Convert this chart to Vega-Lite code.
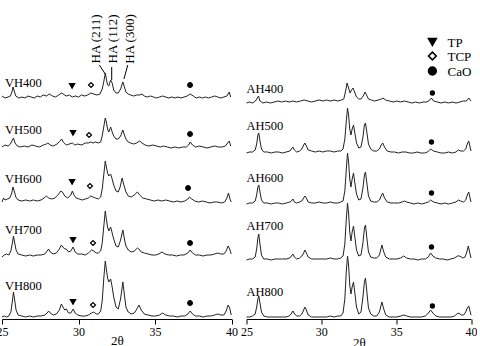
{
"$schema": "https://vega.github.io/schema/vega-lite/v6.json",
"padding": {"left": -4, "top": 0, "right": 0, "bottom": 0},
"background": "white",
"spacing": 2.5,
"config": {
  "view": {"stroke": null},
  "font": "Liberation Serif",
  "axis": {"labelFont": "Liberation Serif", "titleFont": "Liberation Serif", "labelFontSize": 12, "titleFontSize": 13, "titleFontWeight": "normal", "domainColor": "black", "tickColor": "black", "labelColor": "black", "titleColor": "black", "grid": false, "tickSize": 5, "labelPadding": 2, "labelFlush": false}
},
"datasets": {
"VH400": [{"x":25.0,"y":223},{"x":25.2,"y":221},{"x":25.4,"y":222},{"x":25.55,"y":223},{"x":25.65,"y":227},{"x":25.72,"y":232},{"x":25.8,"y":228},{"x":25.9,"y":223},{"x":26.1,"y":221},{"x":26.3,"y":222},{"x":26.5,"y":221},{"x":26.7,"y":223},{"x":26.9,"y":222},{"x":27.1,"y":221},{"x":27.3,"y":223},{"x":27.5,"y":222},{"x":27.7,"y":224},{"x":27.9,"y":223},{"x":28.1,"y":225},{"x":28.3,"y":223},{"x":28.5,"y":222},{"x":28.7,"y":224},{"x":28.9,"y":226},{"x":29.0,"y":225},{"x":29.2,"y":223},{"x":29.4,"y":224},{"x":29.6,"y":222},{"x":29.8,"y":223},{"x":30.0,"y":222},{"x":30.2,"y":224},{"x":30.4,"y":223},{"x":30.6,"y":224},{"x":30.8,"y":226},{"x":31.0,"y":225},{"x":31.2,"y":224},{"x":31.4,"y":225},{"x":31.55,"y":230},{"x":31.65,"y":237},{"x":31.75,"y":246},{"x":31.82,"y":240},{"x":31.9,"y":234},{"x":31.98,"y":233},{"x":32.1,"y":239},{"x":32.2,"y":236},{"x":32.3,"y":229},{"x":32.45,"y":226},{"x":32.6,"y":226},{"x":32.75,"y":230},{"x":32.9,"y":237},{"x":33.0,"y":232},{"x":33.1,"y":227},{"x":33.25,"y":225},{"x":33.4,"y":224},{"x":33.6,"y":223},{"x":33.8,"y":224},{"x":34.0,"y":224},{"x":34.15,"y":225},{"x":34.3,"y":223},{"x":34.5,"y":222},{"x":34.7,"y":223},{"x":34.9,"y":222},{"x":35.1,"y":221},{"x":35.3,"y":222},{"x":35.5,"y":223},{"x":35.7,"y":222},{"x":35.9,"y":221},{"x":36.1,"y":222},{"x":36.3,"y":221},{"x":36.5,"y":222},{"x":36.7,"y":221},{"x":36.9,"y":222},{"x":37.1,"y":223},{"x":37.3,"y":225},{"x":37.5,"y":223},{"x":37.7,"y":221},{"x":37.9,"y":222},{"x":38.1,"y":221},{"x":38.3,"y":222},{"x":38.5,"y":221},{"x":38.7,"y":222},{"x":38.9,"y":223},{"x":39.1,"y":222},{"x":39.3,"y":221},{"x":39.5,"y":222},{"x":39.7,"y":223},{"x":39.85,"y":227},{"x":39.95,"y":222}],
"VH500": [{"x":25.0,"y":172},{"x":25.2,"y":174},{"x":25.4,"y":173},{"x":25.55,"y":175},{"x":25.68,"y":179},{"x":25.75,"y":181},{"x":25.85,"y":176},{"x":26.0,"y":173},{"x":26.2,"y":172},{"x":26.45,"y":173},{"x":26.7,"y":172},{"x":26.95,"y":174},{"x":27.2,"y":173},{"x":27.45,"y":172},{"x":27.7,"y":174},{"x":27.9,"y":175},{"x":28.0,"y":176},{"x":28.15,"y":174},{"x":28.35,"y":173},{"x":28.6,"y":175},{"x":28.8,"y":178},{"x":28.9,"y":180},{"x":29.0,"y":177},{"x":29.2,"y":174},{"x":29.4,"y":175},{"x":29.6,"y":176},{"x":29.75,"y":174},{"x":29.95,"y":175},{"x":30.2,"y":174},{"x":30.45,"y":176},{"x":30.65,"y":176},{"x":30.8,"y":177},{"x":30.95,"y":176},{"x":31.1,"y":177},{"x":31.3,"y":176},{"x":31.45,"y":177},{"x":31.55,"y":183},{"x":31.65,"y":192},{"x":31.75,"y":201},{"x":31.82,"y":197},{"x":31.9,"y":190},{"x":31.98,"y":187},{"x":32.1,"y":192},{"x":32.2,"y":187},{"x":32.3,"y":183},{"x":32.45,"y":180},{"x":32.6,"y":180},{"x":32.75,"y":183},{"x":32.9,"y":189},{"x":33.0,"y":184},{"x":33.1,"y":180},{"x":33.25,"y":177},{"x":33.4,"y":176},{"x":33.6,"y":175},{"x":33.8,"y":176},{"x":34.0,"y":178},{"x":34.15,"y":176},{"x":34.35,"y":174},{"x":34.6,"y":173},{"x":34.85,"y":174},{"x":35.1,"y":173},{"x":35.35,"y":172},{"x":35.55,"y":173},{"x":35.8,"y":172},{"x":36.05,"y":171},{"x":36.3,"y":172},{"x":36.55,"y":171},{"x":36.8,"y":172},{"x":37.05,"y":172},{"x":37.2,"y":174},{"x":37.3,"y":177},{"x":37.45,"y":174},{"x":37.65,"y":172},{"x":37.9,"y":173},{"x":38.15,"y":172},{"x":38.4,"y":171},{"x":38.65,"y":172},{"x":38.9,"y":173},{"x":39.15,"y":172},{"x":39.4,"y":172},{"x":39.6,"y":173},{"x":39.75,"y":176},{"x":39.85,"y":178},{"x":39.95,"y":173}],
"VH600": [{"x":25.0,"y":117},{"x":25.1,"y":121},{"x":25.2,"y":119},{"x":25.35,"y":120},{"x":25.5,"y":121},{"x":25.62,"y":125},{"x":25.72,"y":132},{"x":25.8,"y":128},{"x":25.9,"y":122},{"x":26.05,"y":119},{"x":26.3,"y":118},{"x":26.55,"y":119},{"x":26.8,"y":118},{"x":27.05,"y":119},{"x":27.3,"y":118},{"x":27.55,"y":119},{"x":27.75,"y":121},{"x":27.9,"y":123},{"x":28.05,"y":121},{"x":28.25,"y":120},{"x":28.45,"y":121},{"x":28.65,"y":124},{"x":28.85,"y":128},{"x":28.95,"y":127},{"x":29.1,"y":123},{"x":29.3,"y":121},{"x":29.5,"y":124},{"x":29.6,"y":128},{"x":29.7,"y":124},{"x":29.85,"y":121},{"x":30.05,"y":120},{"x":30.25,"y":119},{"x":30.45,"y":120},{"x":30.65,"y":121},{"x":30.8,"y":123},{"x":30.95,"y":122},{"x":31.1,"y":121},{"x":31.3,"y":120},{"x":31.45,"y":122},{"x":31.55,"y":130},{"x":31.65,"y":144},{"x":31.75,"y":158},{"x":31.82,"y":152},{"x":31.9,"y":146},{"x":31.98,"y":143},{"x":32.1,"y":145},{"x":32.2,"y":140},{"x":32.3,"y":134},{"x":32.45,"y":128},{"x":32.6,"y":127},{"x":32.72,"y":132},{"x":32.85,"y":141},{"x":32.95,"y":135},{"x":33.1,"y":127},{"x":33.25,"y":123},{"x":33.45,"y":122},{"x":33.65,"y":124},{"x":33.85,"y":127},{"x":34.0,"y":124},{"x":34.2,"y":121},{"x":34.45,"y":120},{"x":34.7,"y":119},{"x":34.95,"y":118},{"x":35.2,"y":119},{"x":35.45,"y":118},{"x":35.7,"y":119},{"x":35.95,"y":118},{"x":36.2,"y":117},{"x":36.45,"y":118},{"x":36.7,"y":117},{"x":36.95,"y":118},{"x":37.15,"y":120},{"x":37.25,"y":122},{"x":37.4,"y":120},{"x":37.6,"y":118},{"x":37.85,"y":117},{"x":38.1,"y":118},{"x":38.35,"y":117},{"x":38.6,"y":116},{"x":38.85,"y":117},{"x":39.1,"y":117},{"x":39.35,"y":116},{"x":39.55,"y":117},{"x":39.7,"y":121},{"x":39.8,"y":126},{"x":39.9,"y":120},{"x":39.98,"y":117}],
"VH700": [{"x":25.0,"y":62},{"x":25.15,"y":64},{"x":25.3,"y":65},{"x":25.45,"y":64},{"x":25.58,"y":68},{"x":25.68,"y":76},{"x":25.75,"y":83},{"x":25.82,"y":77},{"x":25.92,"y":69},{"x":26.05,"y":65},{"x":26.3,"y":64},{"x":26.55,"y":63},{"x":26.8,"y":64},{"x":27.05,"y":63},{"x":27.3,"y":64},{"x":27.55,"y":64},{"x":27.8,"y":65},{"x":27.95,"y":68},{"x":28.05,"y":70},{"x":28.15,"y":67},{"x":28.35,"y":65},{"x":28.55,"y":66},{"x":28.75,"y":70},{"x":28.88,"y":74},{"x":28.98,"y":72},{"x":29.1,"y":70},{"x":29.2,"y":70},{"x":29.35,"y":67},{"x":29.5,"y":68},{"x":29.65,"y":72},{"x":29.78,"y":67},{"x":29.95,"y":65},{"x":30.2,"y":65},{"x":30.45,"y":64},{"x":30.65,"y":66},{"x":30.85,"y":69},{"x":31.0,"y":68},{"x":31.15,"y":66},{"x":31.3,"y":66},{"x":31.45,"y":68},{"x":31.55,"y":76},{"x":31.65,"y":92},{"x":31.75,"y":108},{"x":31.82,"y":100},{"x":31.9,"y":92},{"x":31.98,"y":88},{"x":32.1,"y":92},{"x":32.2,"y":86},{"x":32.3,"y":80},{"x":32.45,"y":73},{"x":32.6,"y":72},{"x":32.75,"y":79},{"x":32.9,"y":89},{"x":33.0,"y":80},{"x":33.1,"y":73},{"x":33.25,"y":69},{"x":33.45,"y":67},{"x":33.65,"y":68},{"x":33.85,"y":71},{"x":33.95,"y":70},{"x":34.1,"y":67},{"x":34.3,"y":66},{"x":34.55,"y":65},{"x":34.8,"y":64},{"x":35.05,"y":64},{"x":35.25,"y":65},{"x":35.45,"y":67},{"x":35.65,"y":65},{"x":35.9,"y":64},{"x":36.15,"y":64},{"x":36.4,"y":63},{"x":36.65,"y":64},{"x":36.9,"y":64},{"x":37.15,"y":66},{"x":37.3,"y":69},{"x":37.45,"y":66},{"x":37.65,"y":64},{"x":37.9,"y":64},{"x":38.15,"y":63},{"x":38.4,"y":64},{"x":38.65,"y":64},{"x":38.9,"y":65},{"x":39.1,"y":66},{"x":39.3,"y":65},{"x":39.5,"y":65},{"x":39.65,"y":68},{"x":39.78,"y":73},{"x":39.88,"y":70},{"x":39.98,"y":65}],
"VH800": [{"x":25.0,"y":2},{"x":25.15,"y":3},{"x":25.3,"y":2},{"x":25.45,"y":3},{"x":25.58,"y":7},{"x":25.68,"y":18},{"x":25.75,"y":27},{"x":25.82,"y":20},{"x":25.92,"y":9},{"x":26.05,"y":4},{"x":26.3,"y":3},{"x":26.55,"y":2},{"x":26.8,"y":3},{"x":27.05,"y":2},{"x":27.3,"y":3},{"x":27.55,"y":3},{"x":27.8,"y":4},{"x":27.95,"y":6},{"x":28.05,"y":8},{"x":28.15,"y":6},{"x":28.35,"y":4},{"x":28.55,"y":5},{"x":28.75,"y":9},{"x":28.88,"y":15},{"x":28.98,"y":12},{"x":29.1,"y":9},{"x":29.2,"y":10},{"x":29.35,"y":6},{"x":29.5,"y":6},{"x":29.65,"y":10},{"x":29.78,"y":6},{"x":29.95,"y":4},{"x":30.2,"y":3},{"x":30.45,"y":3},{"x":30.65,"y":4},{"x":30.85,"y":6},{"x":31.0,"y":7},{"x":31.15,"y":5},{"x":31.3,"y":5},{"x":31.45,"y":8},{"x":31.55,"y":18},{"x":31.65,"y":40},{"x":31.75,"y":58},{"x":31.82,"y":50},{"x":31.9,"y":41},{"x":31.98,"y":37},{"x":32.1,"y":40},{"x":32.2,"y":32},{"x":32.3,"y":22},{"x":32.45,"y":12},{"x":32.6,"y":10},{"x":32.75,"y":20},{"x":32.9,"y":37},{"x":33.0,"y":24},{"x":33.1,"y":12},{"x":33.25,"y":7},{"x":33.45,"y":5},{"x":33.65,"y":6},{"x":33.85,"y":11},{"x":33.95,"y":14},{"x":34.1,"y":9},{"x":34.3,"y":5},{"x":34.55,"y":4},{"x":34.8,"y":3},{"x":35.05,"y":3},{"x":35.3,"y":4},{"x":35.5,"y":6},{"x":35.7,"y":4},{"x":35.95,"y":3},{"x":36.2,"y":3},{"x":36.45,"y":2},{"x":36.7,"y":3},{"x":36.95,"y":3},{"x":37.15,"y":5},{"x":37.3,"y":8},{"x":37.45,"y":5},{"x":37.65,"y":3},{"x":37.9,"y":3},{"x":38.15,"y":2},{"x":38.4,"y":3},{"x":38.65,"y":3},{"x":38.9,"y":4},{"x":39.1,"y":5},{"x":39.3,"y":4},{"x":39.5,"y":4},{"x":39.65,"y":8},{"x":39.78,"y":14},{"x":39.88,"y":11},{"x":39.98,"y":4}],
"AH400": [{"x":25.0,"y":216},{"x":25.2,"y":217},{"x":25.4,"y":216},{"x":25.6,"y":218},{"x":25.72,"y":221},{"x":25.8,"y":223},{"x":25.9,"y":218},{"x":26.1,"y":216},{"x":26.35,"y":217},{"x":26.6,"y":216},{"x":26.85,"y":217},{"x":27.1,"y":218},{"x":27.35,"y":217},{"x":27.6,"y":218},{"x":27.85,"y":217},{"x":28.1,"y":218},{"x":28.35,"y":217},{"x":28.6,"y":218},{"x":28.85,"y":219},{"x":29.1,"y":218},{"x":29.35,"y":217},{"x":29.6,"y":218},{"x":29.85,"y":219},{"x":30.1,"y":218},{"x":30.35,"y":219},{"x":30.6,"y":218},{"x":30.85,"y":219},{"x":31.1,"y":218},{"x":31.35,"y":219},{"x":31.5,"y":220},{"x":31.62,"y":228},{"x":31.72,"y":236},{"x":31.8,"y":232},{"x":31.92,"y":226},{"x":32.02,"y":229},{"x":32.12,"y":231},{"x":32.22,"y":227},{"x":32.35,"y":222},{"x":32.5,"y":220},{"x":32.65,"y":220},{"x":32.8,"y":223},{"x":32.92,"y":227},{"x":33.02,"y":224},{"x":33.15,"y":220},{"x":33.35,"y":219},{"x":33.55,"y":218},{"x":33.8,"y":219},{"x":34.0,"y":220},{"x":34.12,"y":221},{"x":34.3,"y":219},{"x":34.55,"y":218},{"x":34.8,"y":217},{"x":35.05,"y":218},{"x":35.3,"y":217},{"x":35.55,"y":218},{"x":35.8,"y":217},{"x":36.05,"y":216},{"x":36.3,"y":217},{"x":36.55,"y":216},{"x":36.8,"y":217},{"x":37.05,"y":217},{"x":37.25,"y":219},{"x":37.35,"y":221},{"x":37.5,"y":218},{"x":37.75,"y":217},{"x":38.0,"y":216},{"x":38.25,"y":217},{"x":38.5,"y":216},{"x":38.75,"y":217},{"x":39.0,"y":216},{"x":39.25,"y":217},{"x":39.5,"y":218},{"x":39.7,"y":218},{"x":39.85,"y":221},{"x":39.95,"y":219},{"x":40.0,"y":218}],
"AH500": [{"x":25.0,"y":166},{"x":25.2,"y":167},{"x":25.4,"y":167},{"x":25.58,"y":169},{"x":25.68,"y":175},{"x":25.76,"y":184},{"x":25.82,"y":186},{"x":25.9,"y":178},{"x":26.0,"y":170},{"x":26.15,"y":167},{"x":26.4,"y":167},{"x":26.65,"y":166},{"x":26.9,"y":167},{"x":27.15,"y":167},{"x":27.4,"y":166},{"x":27.65,"y":167},{"x":27.9,"y":168},{"x":28.0,"y":170},{"x":28.1,"y":172},{"x":28.2,"y":169},{"x":28.35,"y":167},{"x":28.55,"y":168},{"x":28.7,"y":170},{"x":28.82,"y":174},{"x":28.9,"y":176},{"x":29.0,"y":173},{"x":29.12,"y":169},{"x":29.35,"y":168},{"x":29.6,"y":167},{"x":29.85,"y":168},{"x":30.1,"y":167},{"x":30.35,"y":168},{"x":30.6,"y":168},{"x":30.85,"y":167},{"x":31.1,"y":168},{"x":31.3,"y":168},{"x":31.45,"y":170},{"x":31.57,"y":180},{"x":31.67,"y":198},{"x":31.75,"y":211},{"x":31.82,"y":204},{"x":31.9,"y":190},{"x":31.98,"y":184},{"x":32.06,"y":190},{"x":32.15,"y":194},{"x":32.24,"y":186},{"x":32.35,"y":176},{"x":32.5,"y":171},{"x":32.65,"y":172},{"x":32.78,"y":182},{"x":32.88,"y":194},{"x":32.95,"y":196},{"x":33.05,"y":186},{"x":33.15,"y":175},{"x":33.3,"y":170},{"x":33.5,"y":168},{"x":33.7,"y":168},{"x":33.88,"y":170},{"x":34.0,"y":174},{"x":34.1,"y":176},{"x":34.22,"y":172},{"x":34.4,"y":168},{"x":34.65,"y":167},{"x":34.9,"y":167},{"x":35.15,"y":166},{"x":35.4,"y":167},{"x":35.65,"y":167},{"x":35.9,"y":166},{"x":36.15,"y":166},{"x":36.4,"y":167},{"x":36.65,"y":166},{"x":36.9,"y":166},{"x":37.1,"y":167},{"x":37.3,"y":170},{"x":37.5,"y":168},{"x":37.75,"y":167},{"x":38.0,"y":166},{"x":38.25,"y":166},{"x":38.5,"y":167},{"x":38.75,"y":166},{"x":39.0,"y":167},{"x":39.15,"y":169},{"x":39.3,"y":168},{"x":39.5,"y":168},{"x":39.65,"y":170},{"x":39.75,"y":175},{"x":39.85,"y":178},{"x":39.95,"y":171},{"x":40.0,"y":168}],
"AH600": [{"x":25.0,"y":115},{"x":25.2,"y":116},{"x":25.4,"y":116},{"x":25.58,"y":118},{"x":25.68,"y":124},{"x":25.76,"y":132},{"x":25.82,"y":134},{"x":25.9,"y":127},{"x":26.0,"y":119},{"x":26.15,"y":116},{"x":26.4,"y":116},{"x":26.65,"y":115},{"x":26.9,"y":116},{"x":27.15,"y":116},{"x":27.4,"y":115},{"x":27.65,"y":116},{"x":27.9,"y":117},{"x":28.0,"y":118},{"x":28.1,"y":120},{"x":28.2,"y":117},{"x":28.35,"y":116},{"x":28.55,"y":117},{"x":28.7,"y":118},{"x":28.82,"y":121},{"x":28.9,"y":123},{"x":29.0,"y":121},{"x":29.12,"y":117},{"x":29.35,"y":116},{"x":29.6,"y":116},{"x":29.85,"y":117},{"x":30.1,"y":116},{"x":30.35,"y":116},{"x":30.6,"y":117},{"x":30.85,"y":116},{"x":31.1,"y":116},{"x":31.3,"y":117},{"x":31.45,"y":118},{"x":31.57,"y":128},{"x":31.67,"y":150},{"x":31.75,"y":166},{"x":31.82,"y":157},{"x":31.9,"y":140},{"x":31.98,"y":132},{"x":32.06,"y":140},{"x":32.15,"y":146},{"x":32.24,"y":136},{"x":32.35,"y":125},{"x":32.5,"y":119},{"x":32.65,"y":120},{"x":32.78,"y":131},{"x":32.88,"y":144},{"x":32.95,"y":147},{"x":33.05,"y":135},{"x":33.15,"y":123},{"x":33.3,"y":118},{"x":33.5,"y":117},{"x":33.7,"y":117},{"x":33.88,"y":119},{"x":34.0,"y":123},{"x":34.1,"y":126},{"x":34.22,"y":121},{"x":34.4,"y":117},{"x":34.65,"y":116},{"x":34.9,"y":116},{"x":35.15,"y":116},{"x":35.4,"y":117},{"x":35.55,"y":118},{"x":35.7,"y":117},{"x":35.95,"y":116},{"x":36.2,"y":115},{"x":36.45,"y":116},{"x":36.7,"y":115},{"x":36.95,"y":116},{"x":37.15,"y":117},{"x":37.3,"y":119},{"x":37.5,"y":117},{"x":37.75,"y":116},{"x":38.0,"y":115},{"x":38.25,"y":116},{"x":38.5,"y":115},{"x":38.75,"y":116},{"x":39.0,"y":117},{"x":39.15,"y":119},{"x":39.3,"y":118},{"x":39.5,"y":117},{"x":39.65,"y":119},{"x":39.75,"y":124},{"x":39.85,"y":127},{"x":39.95,"y":120},{"x":40.0,"y":117}],
"AH700": [{"x":25.0,"y":59},{"x":25.2,"y":60},{"x":25.4,"y":60},{"x":25.58,"y":62},{"x":25.68,"y":70},{"x":25.76,"y":81},{"x":25.82,"y":85},{"x":25.9,"y":75},{"x":26.0,"y":64},{"x":26.15,"y":60},{"x":26.4,"y":60},{"x":26.65,"y":59},{"x":26.9,"y":60},{"x":27.15,"y":60},{"x":27.4,"y":60},{"x":27.65,"y":60},{"x":27.9,"y":61},{"x":28.0,"y":63},{"x":28.1,"y":65},{"x":28.2,"y":62},{"x":28.35,"y":60},{"x":28.55,"y":61},{"x":28.7,"y":63},{"x":28.82,"y":66},{"x":28.9,"y":69},{"x":29.0,"y":66},{"x":29.12,"y":62},{"x":29.35,"y":60},{"x":29.6,"y":60},{"x":29.85,"y":60},{"x":30.1,"y":60},{"x":30.35,"y":60},{"x":30.6,"y":61},{"x":30.85,"y":60},{"x":31.1,"y":60},{"x":31.3,"y":61},{"x":31.45,"y":63},{"x":31.57,"y":75},{"x":31.67,"y":100},{"x":31.75,"y":116},{"x":31.82,"y":106},{"x":31.9,"y":87},{"x":31.98,"y":78},{"x":32.06,"y":87},{"x":32.15,"y":93},{"x":32.24,"y":82},{"x":32.35,"y":69},{"x":32.5,"y":63},{"x":32.65,"y":64},{"x":32.78,"y":76},{"x":32.88,"y":91},{"x":32.95,"y":94},{"x":33.05,"y":80},{"x":33.15,"y":67},{"x":33.3,"y":62},{"x":33.5,"y":61},{"x":33.7,"y":61},{"x":33.88,"y":64},{"x":33.98,"y":70},{"x":34.05,"y":74},{"x":34.15,"y":68},{"x":34.3,"y":62},{"x":34.55,"y":60},{"x":34.8,"y":60},{"x":35.05,"y":60},{"x":35.3,"y":61},{"x":35.5,"y":63},{"x":35.7,"y":61},{"x":35.95,"y":60},{"x":36.2,"y":60},{"x":36.45,"y":59},{"x":36.7,"y":60},{"x":36.95,"y":60},{"x":37.15,"y":62},{"x":37.3,"y":66},{"x":37.45,"y":63},{"x":37.65,"y":61},{"x":37.9,"y":60},{"x":38.15,"y":60},{"x":38.4,"y":59},{"x":38.65,"y":60},{"x":38.9,"y":61},{"x":39.1,"y":63},{"x":39.25,"y":63},{"x":39.45,"y":61},{"x":39.6,"y":62},{"x":39.72,"y":67},{"x":39.82,"y":73},{"x":39.92,"y":66},{"x":40.0,"y":61}],
"AH800": [{"x":25.0,"y":2},{"x":25.2,"y":2},{"x":25.4,"y":3},{"x":25.58,"y":5},{"x":25.68,"y":12},{"x":25.76,"y":20},{"x":25.82,"y":23},{"x":25.9,"y":16},{"x":26.0,"y":7},{"x":26.15,"y":3},{"x":26.4,"y":2},{"x":26.65,"y":2},{"x":26.9,"y":2},{"x":27.15,"y":2},{"x":27.4,"y":2},{"x":27.65,"y":2},{"x":27.85,"y":3},{"x":27.98,"y":5},{"x":28.1,"y":8},{"x":28.22,"y":5},{"x":28.35,"y":3},{"x":28.55,"y":3},{"x":28.7,"y":5},{"x":28.82,"y":9},{"x":28.9,"y":12},{"x":29.0,"y":9},{"x":29.12,"y":4},{"x":29.35,"y":2},{"x":29.6,"y":2},{"x":29.85,"y":2},{"x":30.1,"y":2},{"x":30.35,"y":2},{"x":30.6,"y":3},{"x":30.85,"y":2},{"x":31.1,"y":3},{"x":31.3,"y":3},{"x":31.45,"y":6},{"x":31.57,"y":20},{"x":31.67,"y":48},{"x":31.75,"y":63},{"x":31.82,"y":54},{"x":31.9,"y":34},{"x":31.98,"y":25},{"x":32.06,"y":32},{"x":32.15,"y":37},{"x":32.24,"y":26},{"x":32.35,"y":12},{"x":32.5,"y":5},{"x":32.65,"y":7},{"x":32.78,"y":22},{"x":32.88,"y":37},{"x":32.95,"y":41},{"x":33.05,"y":26},{"x":33.15,"y":11},{"x":33.3,"y":5},{"x":33.5,"y":3},{"x":33.7,"y":3},{"x":33.88,"y":7},{"x":33.98,"y":13},{"x":34.05,"y":17},{"x":34.15,"y":11},{"x":34.3,"y":4},{"x":34.55,"y":2},{"x":34.8,"y":2},{"x":35.05,"y":2},{"x":35.3,"y":3},{"x":35.5,"y":4},{"x":35.7,"y":3},{"x":35.95,"y":2},{"x":36.2,"y":2},{"x":36.45,"y":2},{"x":36.7,"y":2},{"x":36.95,"y":3},{"x":37.1,"y":5},{"x":37.3,"y":9},{"x":37.45,"y":6},{"x":37.65,"y":3},{"x":37.9,"y":2},{"x":38.15,"y":2},{"x":38.4,"y":2},{"x":38.65,"y":2},{"x":38.9,"y":3},{"x":39.05,"y":5},{"x":39.2,"y":6},{"x":39.35,"y":4},{"x":39.5,"y":4},{"x":39.65,"y":7},{"x":39.75,"y":11},{"x":39.85,"y":13},{"x":39.95,"y":7},{"x":40.0,"y":4}],
"labL": [{"t":"VH400","x":25.2,"y":236},{"t":"VH500","x":25.2,"y":189},{"t":"VH600","x":25.2,"y":140},{"t":"VH700","x":25.2,"y":89},{"t":"VH800","x":25.2,"y":33}],
"labR": [{"t":"AH400","x":25.0,"y":230},{"t":"AH500","x":25.0,"y":193},{"t":"AH600","x":25.0,"y":141},{"t":"AH700","x":25.0,"y":93},{"t":"AH800","x":25.0,"y":27}],
"ha": [{"t":"HA (211)","x":31.14,"y":280},{"t":"HA (112)","x":32.25,"y":280},{"t":"HA (300)","x":33.37,"y":280}],
"lead": [{"x":31.36,"y":254,"x2":31.75,"y2":245},{"x":32.17,"y":252,"x2":32.17,"y2":239},{"x":33.22,"y":254,"x2":32.97,"y2":240}],
"mkL": [{"m":"tri","x":29.58,"y":233},{"m":"dia","x":30.82,"y":234},{"m":"circ","x":37.29,"y":234},{"m":"tri","x":29.64,"y":186},{"m":"dia","x":30.69,"y":184},{"m":"circ","x":37.29,"y":185},{"m":"tri","x":29.58,"y":137},{"m":"dia","x":30.75,"y":133},{"m":"circ","x":37.16,"y":131},{"m":"tri","x":29.64,"y":79},{"m":"dia","x":30.95,"y":76},{"m":"circ","x":37.29,"y":76},{"m":"tri","x":29.64,"y":17},{"m":"dia","x":30.95,"y":14},{"m":"circ","x":37.29,"y":16}],
"mkR": [{"x":37.42,"y":226},{"x":37.36,"y":177},{"x":37.36,"y":126},{"x":37.36,"y":72},{"x":37.42,"y":13}],
"legSym": [{"m":"tri","x":37.42,"y":277},{"m":"dia","x":37.42,"y":263},{"m":"circ","x":37.42,"y":248}],
"legTxt": [{"t":"TP","x":38.43,"y":276},{"t":"TCP","x":38.43,"y":262},{"t":"CaO","x":38.43,"y":247}]
},
"hconcat": [
{
  "width": 229.5, "height": 319,
  "encoding": {
    "x": {"field": "x", "type": "quantitative", "scale": {"domain": [25, 40], "nice": false, "zero": false}, "axis": {"values": [25, 30, 35, 40], "title": "2θ", "titleY": 15}},
    "y": {"field": "y", "type": "quantitative", "scale": {"domain": [0, 319], "nice": false, "zero": false}, "axis": null}
  },
  "layer": [
    {"data": {"name": "VH400"}, "mark": {"type": "line", "color": "#222", "strokeWidth": 1}},
    {"data": {"name": "VH500"}, "mark": {"type": "line", "color": "#222", "strokeWidth": 1}},
    {"data": {"name": "VH600"}, "mark": {"type": "line", "color": "#222", "strokeWidth": 1}},
    {"data": {"name": "VH700"}, "mark": {"type": "line", "color": "#222", "strokeWidth": 1}},
    {"data": {"name": "VH800"}, "mark": {"type": "line", "color": "#222", "strokeWidth": 1}},
    {"data": {"name": "labL"}, "mark": {"type": "text", "align": "left", "baseline": "middle", "fontSize": 12.5, "font": "Liberation Serif", "color": "black"}, "encoding": {"text": {"field": "t"}}},
    {"data": {"name": "ha"}, "mark": {"type": "text", "align": "center", "baseline": "middle", "angle": 270, "fontSize": 13, "font": "Liberation Serif", "color": "black"}, "encoding": {"text": {"field": "t"}}},
    {"data": {"name": "lead"}, "mark": {"type": "rule", "color": "black", "strokeWidth": 1}, "encoding": {"x2": {"field": "x2"}, "y2": {"field": "y2"}}},
    {"data": {"name": "mkL"}, "mark": {"type": "point", "stroke": "black", "strokeWidth": 1.2, "opacity": 1},
     "encoding": {
       "shape": {"field": "m", "type": "nominal", "scale": {"domain": ["tri", "dia", "circ"], "range": ["triangle-down", "diamond", "circle"]}, "legend": null},
       "fill": {"field": "m", "type": "nominal", "scale": {"domain": ["tri", "dia", "circ"], "range": ["black", "white", "black"]}, "legend": null},
       "size": {"field": "m", "type": "nominal", "scale": {"domain": ["tri", "dia", "circ"], "range": [28, 22, 28]}, "legend": null}
     }}
  ]
},
{
  "width": 224.5, "height": 319,
  "encoding": {
    "x": {"field": "x", "type": "quantitative", "scale": {"domain": [25, 40], "nice": false, "zero": false}, "axis": {"values": [25, 30, 35, 40], "title": "2θ", "titleY": 17}},
    "y": {"field": "y", "type": "quantitative", "scale": {"domain": [0, 319], "nice": false, "zero": false}, "axis": null}
  },
  "layer": [
    {"data": {"name": "AH400"}, "mark": {"type": "line", "color": "#222", "strokeWidth": 1}},
    {"data": {"name": "AH500"}, "mark": {"type": "line", "color": "#222", "strokeWidth": 1}},
    {"data": {"name": "AH600"}, "mark": {"type": "line", "color": "#222", "strokeWidth": 1}},
    {"data": {"name": "AH700"}, "mark": {"type": "line", "color": "#222", "strokeWidth": 1}},
    {"data": {"name": "AH800"}, "mark": {"type": "line", "color": "#222", "strokeWidth": 1}},
    {"data": {"name": "labR"}, "mark": {"type": "text", "align": "left", "baseline": "middle", "fontSize": 12.5, "font": "Liberation Serif", "color": "black"}, "encoding": {"text": {"field": "t"}}},
    {"data": {"name": "mkR"}, "mark": {"type": "point", "shape": "circle", "filled": true, "color": "black", "size": 28, "opacity": 1}},
    {"data": {"name": "legSym"}, "mark": {"type": "point", "stroke": "black", "strokeWidth": 1.6, "size": 60, "opacity": 1},
     "encoding": {
       "shape": {"field": "m", "type": "nominal", "scale": {"domain": ["tri", "dia", "circ"], "range": ["triangle-down", "diamond", "circle"]}, "legend": null},
       "fill": {"field": "m", "type": "nominal", "scale": {"domain": ["tri", "dia", "circ"], "range": ["black", "white", "black"]}, "legend": null}
     }},
    {"data": {"name": "legTxt"}, "mark": {"type": "text", "align": "left", "baseline": "middle", "fontSize": 13, "font": "Liberation Serif", "color": "black"}, "encoding": {"text": {"field": "t"}}}
  ]
}
]
}
